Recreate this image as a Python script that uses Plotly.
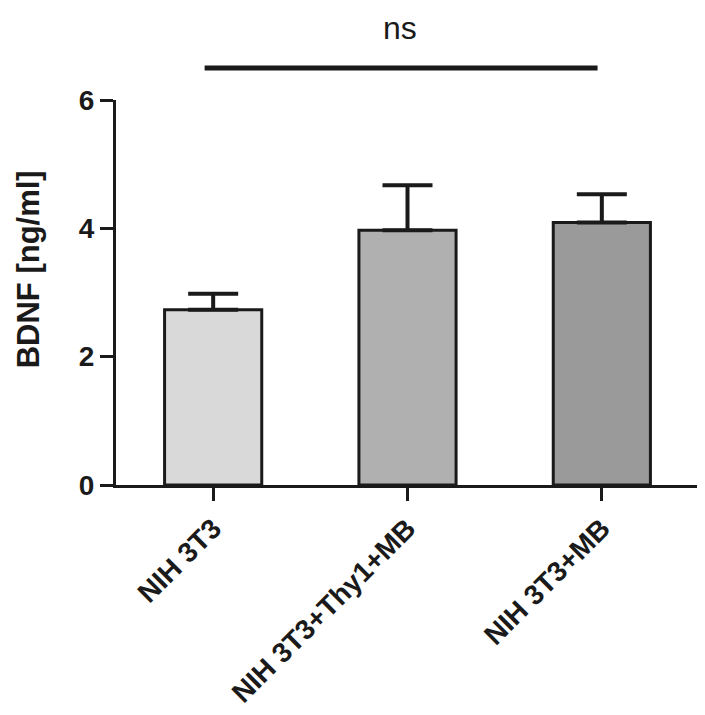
import plotly.graph_objects as go

# data
groups = ["NIH 3T3", "NIH 3T3+Thy1+MB", "NIH 3T3+MB"]
bdnf_mean = [2.73, 3.97, 4.09]
bdnf_err = [0.25, 0.70, 0.44]
bar_colors = ["#d9d9d9", "#b0b0b0", "#9a9a9a"]
y_ticks = [0, 2, 4, 6]

font_family = "Liberation Sans, Arial, sans-serif"

fig = go.Figure()
fig.add_trace(go.Bar(x=groups, y=bdnf_mean,
                     width=0.5,
                     marker=dict(color=bar_colors, line=dict(color="#1a1a1a", width=3)),
                     error_y=dict(type="data", array=bdnf_err, symmetric=False,
                                  arrayminus=[0] * len(bdnf_err),
                                  color="#1a1a1a", thickness=4, width=25),
                     showlegend=False))

# significance bar
fig.add_shape(type="line", xref="paper", yref="paper",
              x0=0.152, x1=0.826, y0=1.083, y1=1.083,
              line=dict(color="#1a1a1a", width=5))
fig.add_annotation(text="ns", xref="paper", yref="paper",
                   x=0.487, y=1.237, xanchor="center", yanchor="top",
                   borderpad=0, showarrow=False,
                   font=dict(family=font_family, size=32, color="#1a1a1a"))

# y title as annotation (sits a bit above the plot centre in the original)
fig.add_annotation(text="<b>BDNF [ng/ml]</b>", xref="paper", yref="paper",
                   x=-0.15, y=0.559, xanchor="center", yanchor="middle",
                   textangle=-90, borderpad=0, showarrow=False,
                   font=dict(family=font_family, size=31, color="#1a1a1a"))

# page body has an 8px margin, so the figure is 8px smaller and margins shifted
fig.update_layout(width=697, height=707,
                  margin=dict(l=108, r=6, t=92, b=227),
                  plot_bgcolor="white", paper_bgcolor="white",
                  font=dict(family=font_family, color="#1a1a1a"))

fig.update_xaxes(range=[-0.5, 2.5], showline=True, linecolor="#1a1a1a", linewidth=3,
                 ticks="outside", ticklen=13, tickwidth=3, tickcolor="#1a1a1a",
                 tickangle=-45, showgrid=False,
                 tickfont=dict(family=font_family, size=28, weight="bold", color="#1a1a1a"))
fig.update_yaxes(range=[0, 6], tickvals=y_ticks, showline=True, linecolor="#1a1a1a", linewidth=3,
                 ticks="outside", ticklen=13, tickwidth=3, tickcolor="#1a1a1a",
                 showgrid=False, zeroline=False,
                 tickfont=dict(family=font_family, size=28, weight="bold", color="#1a1a1a"))

fig.write_html("out.html")
